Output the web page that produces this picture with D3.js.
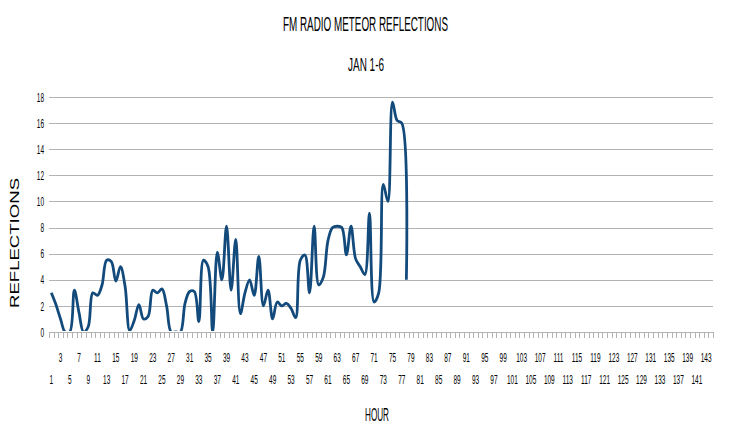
<!DOCTYPE html>
<html><head><meta charset="utf-8">
<script src="https://cdn.jsdelivr.net/npm/d3@7"></script>
<style>body{margin:0;background:#fff}text{font-family:"Liberation Sans",Arial,sans-serif;fill:#000}</style>
</head><body>
<script>
// ---- data ----
const categories = d3.range(1, 145);            // hour categories 1..144
const hours = d3.range(1, 79);                   // hours with readings
const reflections = [
  3.0, 2.1, 1.0, 0, 0, 3.2, 1.5, 0, 0.4, 3.0,
  2.8, 3.6, 5.5, 5.4, 3.9, 5.0, 3.5, 0.1, 0.9, 2.1,
  1.0, 1.2, 3.2, 3.0, 3.3, 2.0, 0, 0, 0, 2.2,
  3.1, 3.1, 0.8, 5.5, 5.0, 0, 6.1, 4.0, 8.1, 3.2,
  7.1, 1.4, 3.0, 4.0, 2.8, 5.8, 2.0, 3.2, 1.0, 2.3,
  2.0, 2.2, 1.8, 1.1, 5.5, 5.9, 3.0, 8.1, 3.6, 4.2,
  7.0, 8.0, 8.1, 8.0, 5.9, 8.1, 5.6, 5.0, 4.4, 9.1,
  2.3, 3.0, 11.3, 10.0, 17.6, 16.2, 16.0, 4.0
];
const yTickValues = [0, 2, 4, 6, 8, 10, 12, 14, 16, 18];
const xLabelsTop = d3.range(3, 145, 4);     // 3,7,...,143
const xLabelsBottom = d3.range(1, 145, 4);  // 1,5,...,141
const title = "FM RADIO METEOR REFLECTIONS";
const subtitle = "JAN 1-6";
const xTitle = "HOUR";
const yTitle = "REFLECTIONS";

// ---- layout ----
const W = 730, H = 438;
const L = 49, R = 713, T = 97, B = 332;
const grid = "#b3b3b3";
const lineColor = "#134a7c";

const svg = d3.select("body").append("svg").attr("width", W).attr("height", H);

const x = d3.scaleBand().domain(categories).range([L, R]);
const xb = d3.scaleLinear().domain([0, 144]).range([L, R]);
const y = d3.scaleLinear().domain([0, 18]).range([B, T]);

// gridlines
const gGrid = svg.append("g").attr("transform", `translate(${L},0)`)
  .call(d3.axisLeft(y).tickValues(yTickValues.filter(v => v > 0)).tickSize(-(R - L)).tickFormat(""));
gGrid.select(".domain").remove();
gGrid.selectAll("line").attr("stroke", grid).attr("shape-rendering", "crispEdges");

// y labels
const gY = svg.append("g").attr("transform", `translate(${L},0)`)
  .call(d3.axisLeft(y).tickValues(yTickValues).tickSize(0).tickPadding(0).tickFormat(d3.format("d")));
gY.select(".domain").remove();
gY.selectAll("text").attr("x", -10).attr("font-size", 13)
  .attr("transform", "scale(0.5,1)").attr("font-family", null);

// line
svg.append("clipPath").attr("id", "clip").append("rect")
  .attr("x", L).attr("y", T - 10).attr("width", R - L).attr("height", B - 1 - (T - 10));
const data = hours.map((h, i) => ({h, v: reflections[i]}));
const line = d3.line()
  .x(d => x(d.h) + x.bandwidth() / 2)
  .y(d => y(d.v))
  .curve(d3.curveCatmullRom.alpha(0.5));
svg.append("path").datum(data)
  .attr("clip-path", "url(#clip)")
  .attr("fill", "none").attr("stroke", lineColor).attr("stroke-width", 2.8)
  .attr("stroke-linejoin", "round").attr("d", line);

// x axis line + ticks
const gX = svg.append("g").attr("transform", `translate(0,${B})`)
  .call(d3.axisBottom(xb).tickValues(d3.range(0, 145)).tickSize(6).tickSizeOuter(0).tickFormat(""));
gX.select(".domain").attr("stroke", grid).attr("shape-rendering", "crispEdges");
gX.selectAll("line").attr("stroke", grid).attr("shape-rendering", "crispEdges");

// x labels (two rows)
function labelRow(vals, pad) {
  const g = svg.append("g").attr("transform", `translate(0,${B})`)
    .call(d3.axisBottom(x).tickValues(vals).tickSize(0).tickPadding(pad));
  g.select(".domain").remove();
  g.selectAll("text").attr("font-size", 13).attr("font-family", null)
    .attr("transform", "scale(0.5,1)")
    .each(function() {
      const t = d3.select(this.parentNode).attr("transform");
      const tx = +t.match(/translate\(([-\d.]+)/)[1];
      d3.select(this.parentNode).attr("transform", "translate(0,0)");
      d3.select(this).attr("x", tx * 2);
    });
}
labelRow(xLabelsTop, 21);
labelRow(xLabelsBottom, 43);

// titles
svg.append("text").attr("x", 365.5).attr("y", 31).attr("text-anchor", "middle")
  .attr("font-size", 21).attr("textLength", 165).attr("lengthAdjust", "spacingAndGlyphs").text(title);
svg.append("text").attr("x", 366).attr("y", 71).attr("text-anchor", "middle")
  .attr("font-size", 19).attr("textLength", 36).attr("lengthAdjust", "spacingAndGlyphs").text(subtitle);
svg.append("text").attr("x", 377).attr("y", 421).attr("text-anchor", "middle")
  .attr("font-size", 19).attr("textLength", 24).attr("lengthAdjust", "spacingAndGlyphs").text(xTitle);
svg.append("g").attr("transform", "translate(15,243) scale(0.7,1) rotate(-90)")
  .append("text").attr("text-anchor", "middle").attr("dy", "0.35em")
  .attr("font-size", 17).attr("textLength", 130).attr("lengthAdjust", "spacingAndGlyphs").text(yTitle);
</script>
</body></html>
